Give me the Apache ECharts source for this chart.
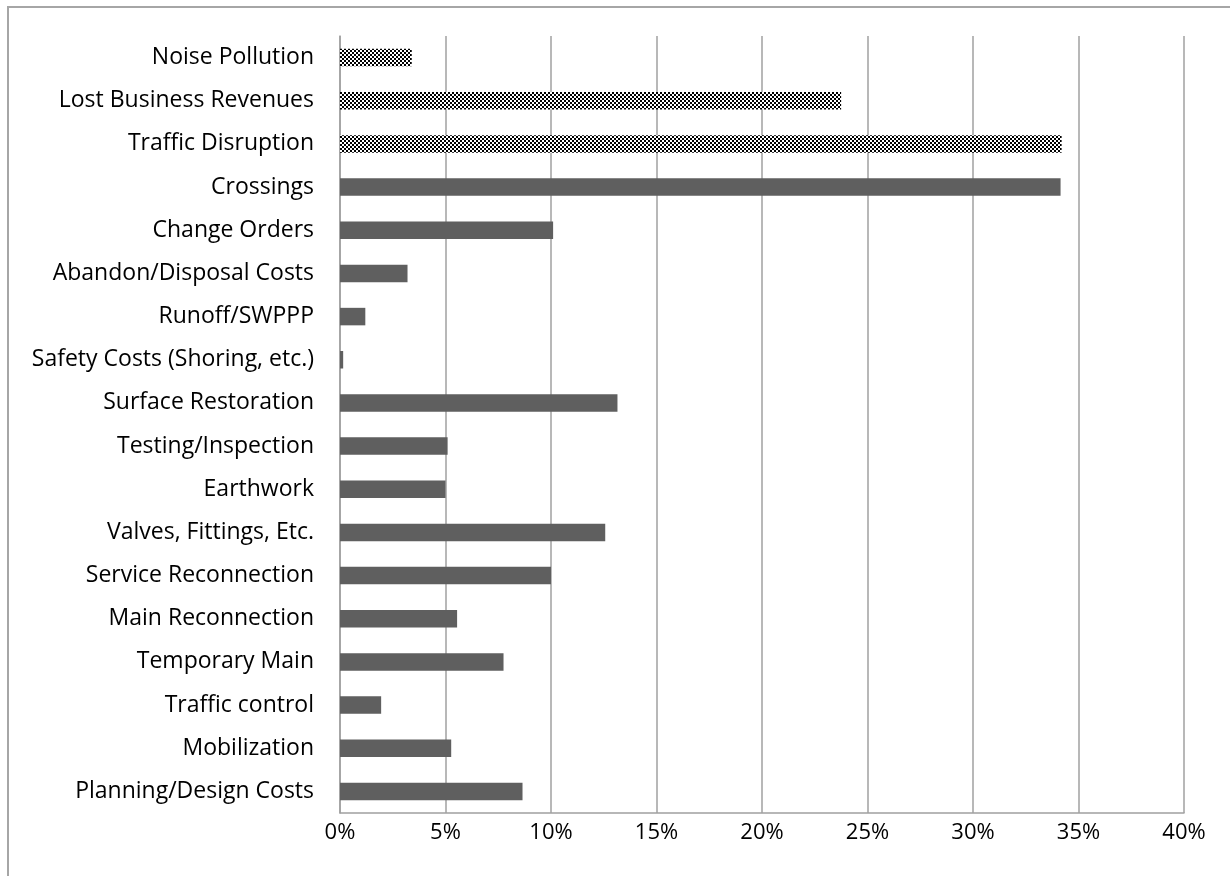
<!DOCTYPE html>
<html><head><meta charset="utf-8">
<script src="https://cdn.jsdelivr.net/npm/echarts@6/dist/echarts.min.js"></script>
<style>html,body{margin:0;padding:0;background:#fff}#c{width:1230px;height:876px}</style>
</head><body><div id="c"></div>
<script>
const categories = ["Planning/Design Costs","Mobilization","Traffic control","Temporary Main","Main Reconnection","Service Reconnection","Valves, Fittings, Etc.","Earthwork","Testing/Inspection","Surface Restoration","Safety Costs (Shoring, etc.)","Runoff/SWPPP","Abandon/Disposal Costs","Change Orders","Crossings","Traffic Disruption","Lost Business Revenues","Noise Pollution"];
const directCosts = [8.65,5.27,1.95,7.75,5.55,10.0,12.57,5.0,5.1,13.15,0.15,1.2,3.2,10.1,34.15,null,null,null];
const socialCosts = [null,null,null,null,null,null,null,null,null,null,null,null,null,null,null,34.2,23.75,3.4];
const xTicks = [0,5,10,15,20,25,30,35,40];

const pc = document.createElement('canvas');
pc.width = 4; pc.height = 4;
const g = pc.getContext('2d');
g.fillStyle = '#fff'; g.fillRect(0,0,4,4);
g.fillStyle = '#000'; g.fillRect(0,0,2,2); g.fillRect(2,2,2,2);

const chart = echarts.init(document.getElementById('c'), null, {renderer:'canvas'});
const font = '"Open Sans", sans-serif';
chart.setOption({
  animation:false,
  graphic:[{type:'rect',shape:{x:8,y:7,width:1400,height:1000},style:{fill:'none',stroke:'#A6A6A6',lineWidth:2},silent:true}],
  grid:{left:340,right:46,top:36,bottom:63,containLabel:false},
  xAxis:{type:'value',min:xTicks[0],max:xTicks[xTicks.length-1],interval:5,
    axisLine:{show:true,lineStyle:{color:'#A0A0A0',width:1.5}},
    axisTick:{show:false},
    splitLine:{show:true,lineStyle:{color:'#A0A0A0',width:1.5}},
    axisLabel:{formatter:v=>v+'%',color:'#000',fontSize:22,fontFamily:font,margin:9}},
  yAxis:{type:'category',data:categories,
    axisLine:{show:true,lineStyle:{color:'#A0A0A0',width:1.5}},
    axisTick:{show:false},
    axisLabel:{color:'#000',fontSize:23,fontFamily:font,margin:26,padding:[3,0,0,0]}},
  series:[
    {type:'bar',stack:'a',data:directCosts,barWidth:17.5,itemStyle:{color:'#5F5F5F'}},
    {type:'bar',stack:'a',data:socialCosts,barWidth:17.5,itemStyle:{color:{image:pc,repeat:'repeat'}}}
  ]
});
</script></body></html>
